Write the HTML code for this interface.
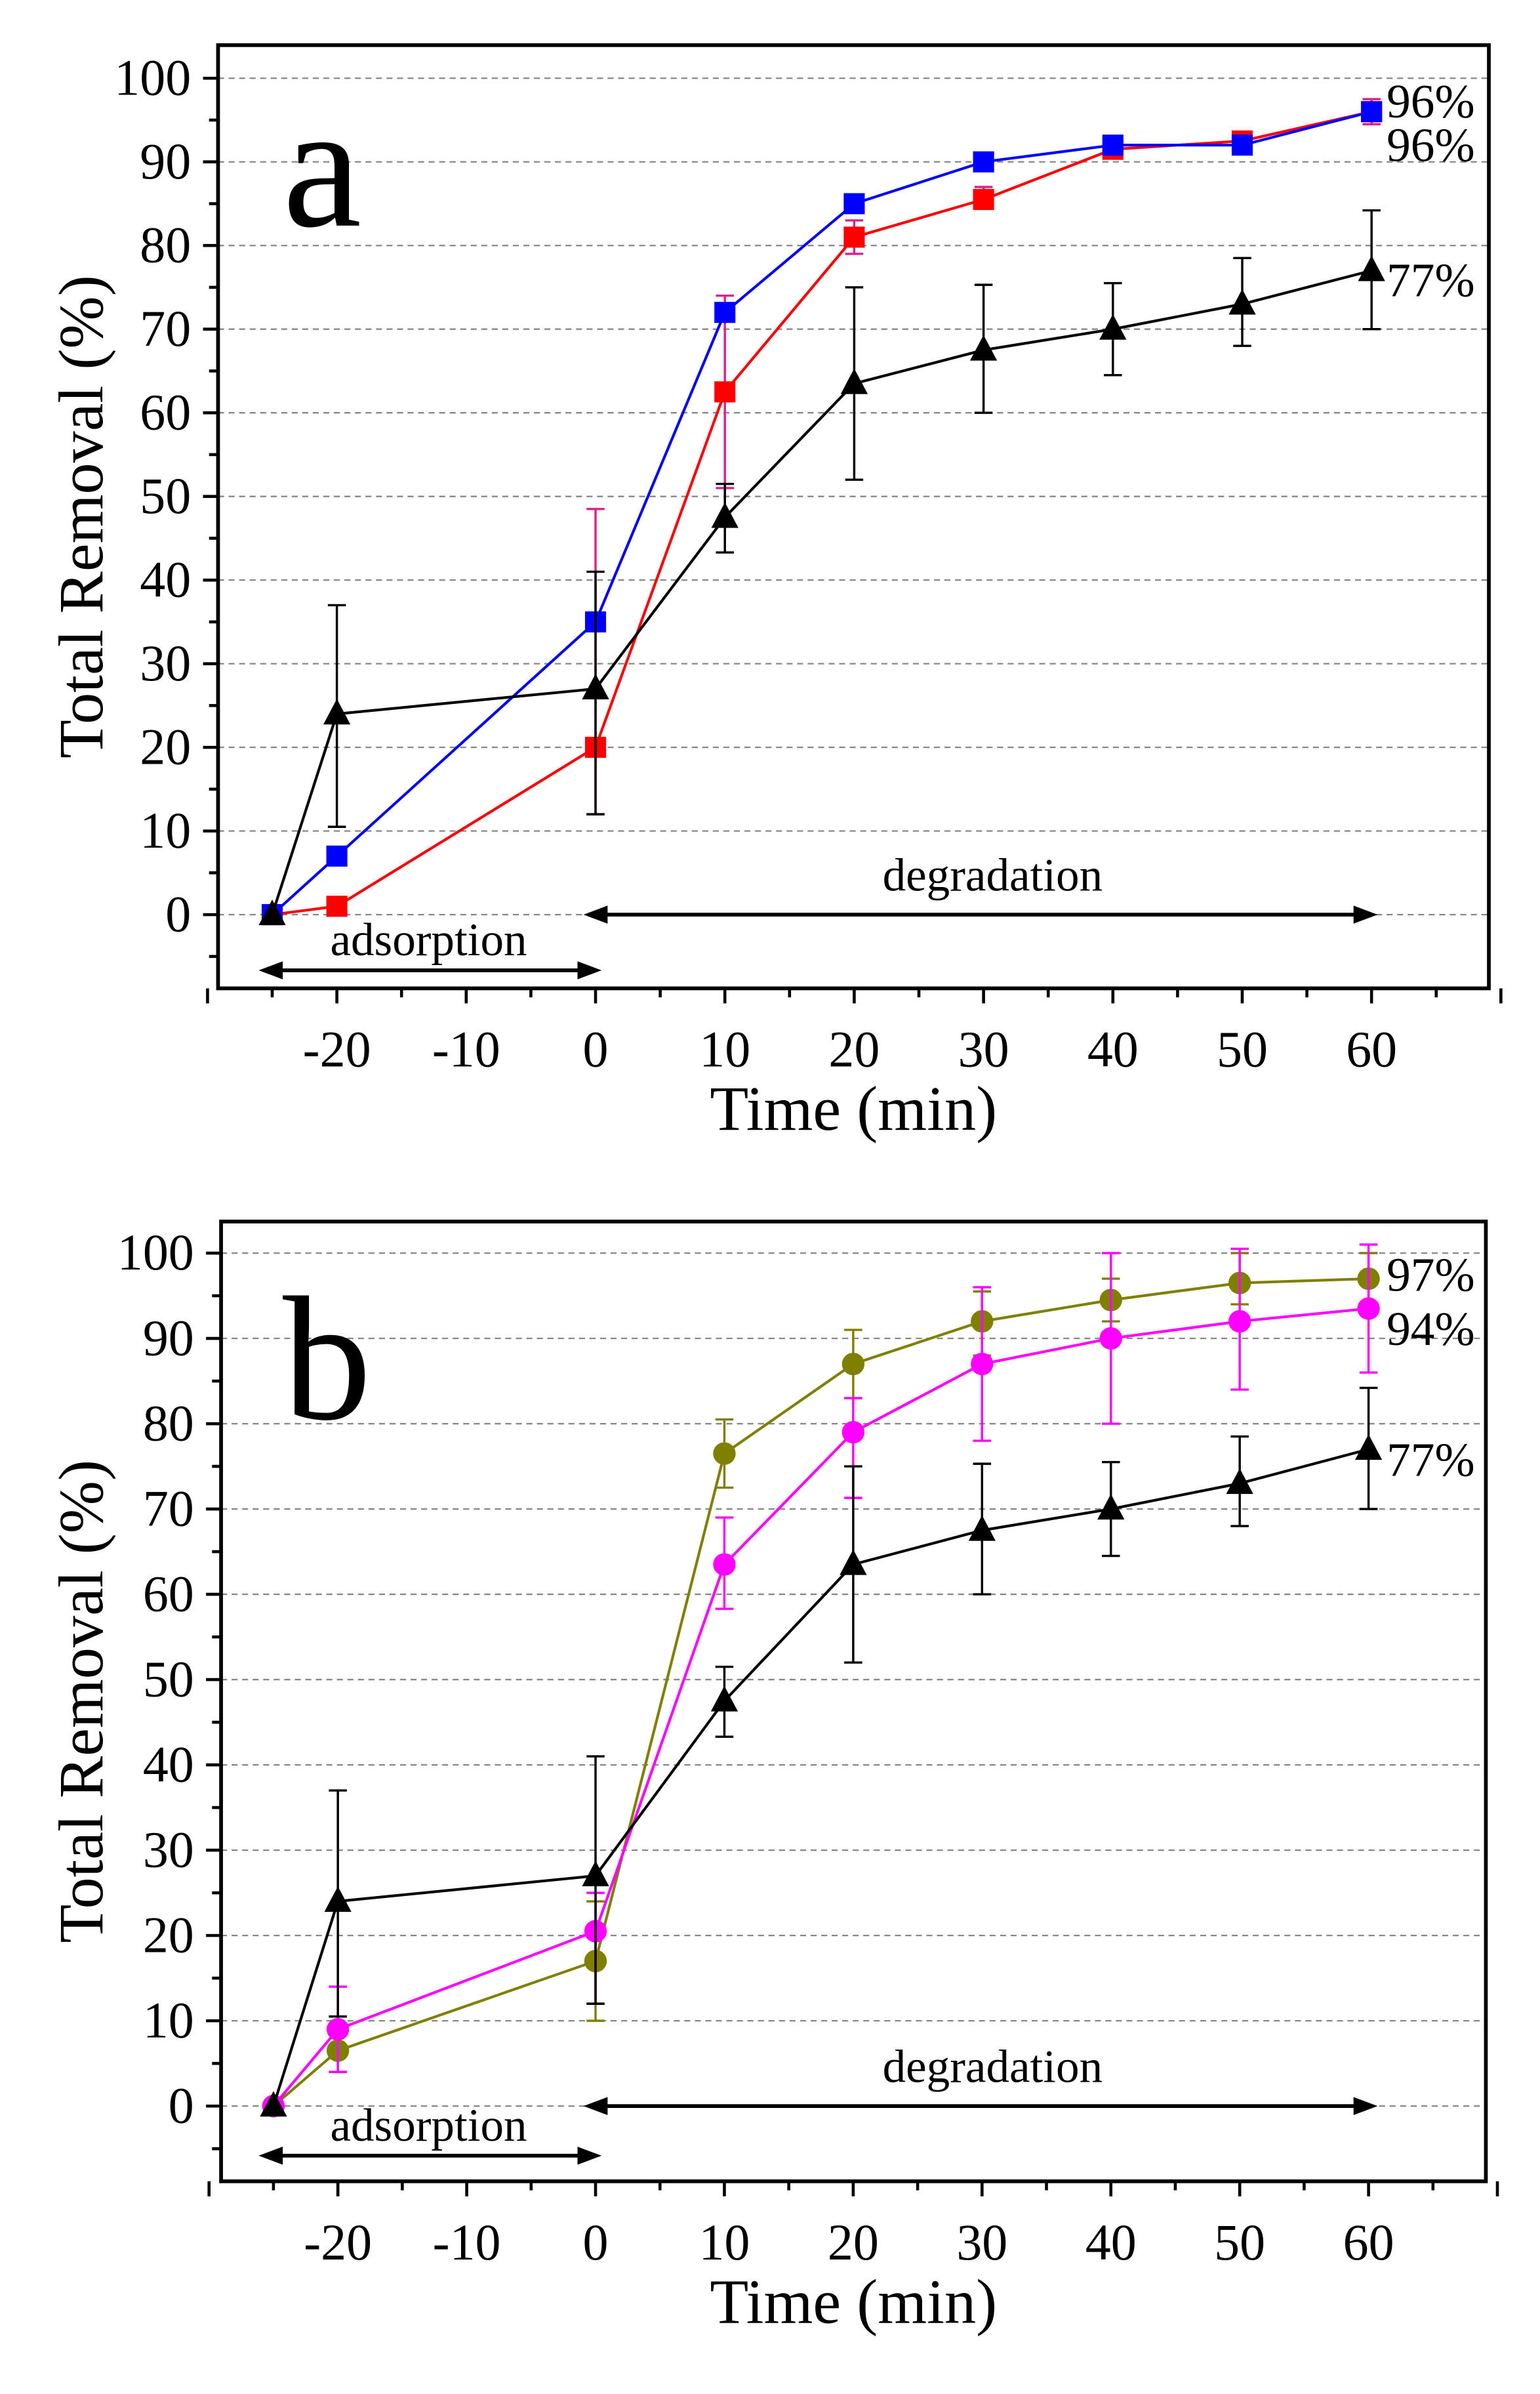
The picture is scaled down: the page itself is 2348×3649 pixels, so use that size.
<!DOCTYPE html>
<html><head><meta charset="utf-8"><style>
html,body{margin:0;padding:0;background:#fff;}
svg{display:block;}
text{font-family:"Liberation Serif",serif;fill:#000;}
</style></head><body>
<svg id="s" width="2348" height="3649" viewBox="0 0 1024 1591.4" preserveAspectRatio="none" xmlns="http://www.w3.org/2000/svg"></svg>
<script>
const S=document.getElementById('s');let h='';
function panel(P){
 const {x0,x1,y0,y1,yz,yh,tz,t60}=P;
 const X=t=>tz+(t60-tz)*t/60, Y=v=>yz+(yh-yz)*v/100;
 for(let v=0;v<=100;v+=10) h+=`<line x1="${x0}" x2="${x1}" y1="${Y(v)}" y2="${Y(v)}" stroke="#888" stroke-width="1" stroke-dasharray="4,3"/>`;
 h+=`<rect x="${x0}" y="${y0}" width="${x1-x0}" height="${y1-y0}" fill="none" stroke="#000" stroke-width="2.5"/>`;
 for(let v=-10;v<=105;v+=5){const y=Y(v);if(y<y0||y>y1)continue;const L=v%10==0?10:6;h+=`<line x1="${x0-L}" x2="${x0}" y1="${y}" y2="${y}" stroke="#000" stroke-width="2"/>`;
  if(v%10==0&&v>=0)h+=`<text x="${x0-18}" y="${y+11}" font-size="34" text-anchor="end">${v}</text>`;}
 for(let t=-30;t<=70;t+=5){const x=X(t);const L=t%10==0?10:6;h+=`<line x1="${x}" x2="${x}" y1="${y1}" y2="${y1+L}" stroke="#000" stroke-width="2"/>`;
  if(t%10==0&&t>=-20&&t<=60)h+=`<text x="${x}" y="${y1+52}" font-size="34" text-anchor="middle">${t}</text>`;}
 h+=`<text x="${(x0+x1)/2}" y="${y1+94}" font-size="42" text-anchor="middle">Time (min)</text>`;
 h+=`<text transform="translate(68,${(y0+y1)/2}) rotate(-90)" font-size="42" text-anchor="middle">Total Removal (%)</text>`;
 h+=`<text x="${P.lx}" y="${P.ly}" font-size="118">${P.letter}</text>`;
 const arr=(xa,xb,y)=>{h+=`<line x1="${xa+10}" x2="${xb-10}" y1="${y}" y2="${y}" stroke="#000" stroke-width="2.5"/><polygon points="${xa},${y} ${xa+16},${y-6} ${xa+16},${y+6}"/><polygon points="${xb},${y} ${xb-16},${y-6} ${xb-16},${y+6}"/>`;};
 arr(172,400,P.ay);arr(388,916,P.dy);
 h+=`<text x="285" y="${P.ay-10}" font-size="31" text-anchor="middle">adsorption</text>`;
 h+=`<text x="660" y="${P.dy-16}" font-size="31" text-anchor="middle">degradation</text>`;
 const T=[-25,-20,0,10,20,30,40,50,60];
 for(const s of P.series){
  let pts=T.map((t,i)=>X(t)+','+Y(s.v[i])).join(' ');
  if(s.e)T.forEach((t,i)=>{const e=s.e[i];if(!e)return;const x=X(t);h+=`<line x1="${x}" x2="${x}" y1="${Y(e[0])}" y2="${Y(e[1])}" stroke="${s.ec||s.c}" stroke-width="1.5"/><line x1="${x-6}" x2="${x+6}" y1="${Y(e[0])}" y2="${Y(e[0])}" stroke="${s.ec||s.c}" stroke-width="1.5"/><line x1="${x-6}" x2="${x+6}" y1="${Y(e[1])}" y2="${Y(e[1])}" stroke="${s.ec||s.c}" stroke-width="1.5"/>`;});
  h+=`<polyline points="${pts}" fill="none" stroke="${s.c}" stroke-width="1.8"/>`;
  T.forEach((t,i)=>{const x=X(t),y=Y(s.v[i]);
   if(s.m=='sq')h+=`<rect x="${x-7}" y="${y-7}" width="14" height="14" fill="${s.c}"/>`;
   else if(s.m=='tri')h+=`<polygon points="${x},${y-10} ${x-9},${y+7} ${x+9},${y+7}" fill="${s.c}"/>`;
   else h+=`<circle cx="${x}" cy="${y}" r="7.5" fill="${s.c}"/>`;});
 }
 for(const l of P.labels)h+=`<text x="922" y="${l[1]}" font-size="32">${l[0]}</text>`;
}
const black={c:'#000',m:'tri',v:[0,24,27,47.5,63.5,67.5,70,73,77],e:[null,[10.5,37],[12,41],[43.3,51.5],[52,75],[60,75.3],[64.5,75.5],[68,78.5],[70,84.2]]};
panel({x0:145,x1:990,y0:30,y1:657,yz:608,yh:52,tz:396,t60:912,letter:'a',lx:188,ly:150,ay:645,dy:608,
 series:[
 {c:'#ff0000',m:'sq',ec:'#e0208a',v:[0,1,20,62.5,81,85.5,91.5,92.5,96],e:[null,null,[12,48.5],[51,74],[79,83],[84.5,87],[90.5,92.5],[91.5,93.5],[94.5,97.5]]},
 {c:'#0000ff',m:'sq',v:[0,7,35,72,85,90,92,92,96]},black],
 labels:[['96%',78],['96%',107],['77%',197]]});
panel({x0:147,x1:988,y0:812,y1:1450,yz:1400,yh:833,tz:396,t60:910,letter:'b',lx:188,ly:943,ay:1433,dy:1400,
 series:[
 {c:'#808000',m:'c',v:[0,6.5,17,76.5,87,92,94.5,96.5,97],e:[null,[4,9],[10,24],[72.5,80.5],[83,91],[88,95.5],[92,97],[94,100],[94,100]]},
 {c:'#ff00ff',m:'c',v:[0,9,20.5,63.5,79,87,90,92,93.5],e:[null,[4,14],[12,25],[58.3,69],[71.3,83],[78,96],[80,100],[84,100.5],[86,101]]},black],
 labels:[['97%',858],['94%',894],['77%',981]]});
S.innerHTML=h;
</script>
</body></html>
